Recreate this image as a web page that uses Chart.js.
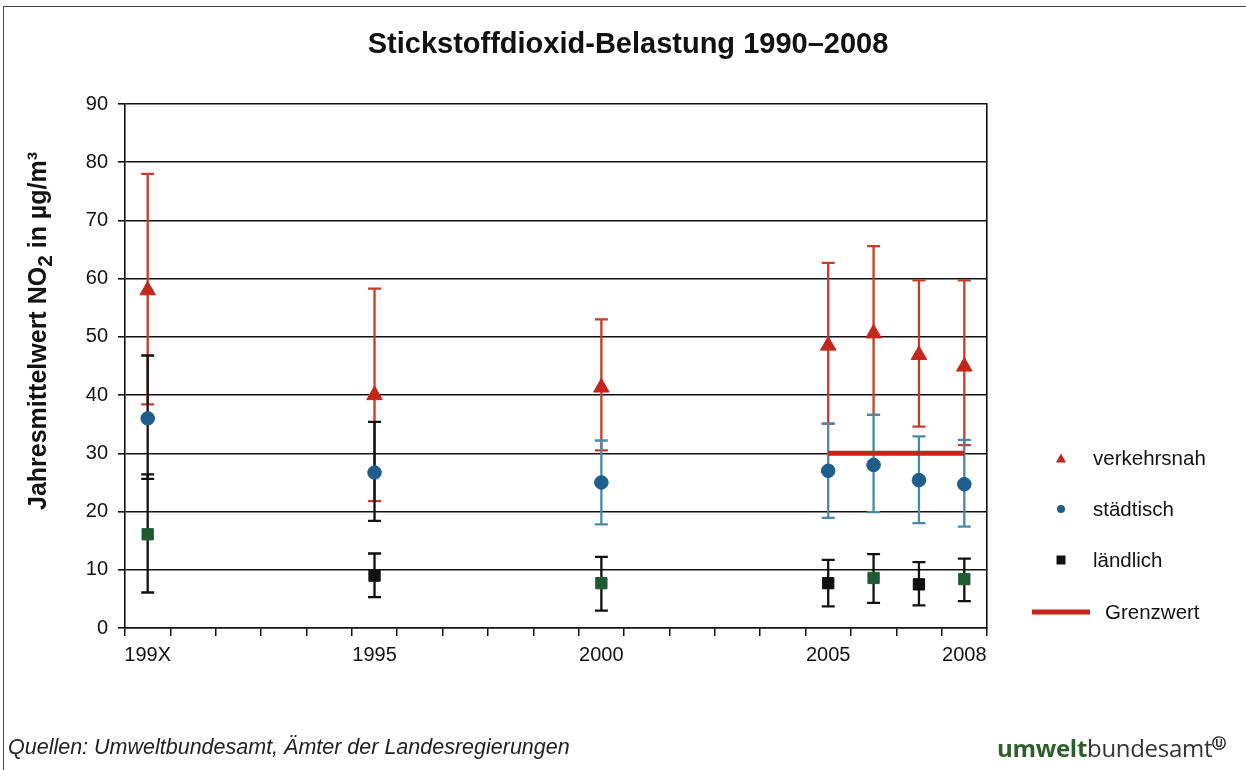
<!DOCTYPE html>
<html>
<head>
<meta charset="utf-8">
<script src="https://cdn.jsdelivr.net/npm/chart.js@4.4.0/dist/chart.umd.min.js"></script>
<style>
    body { margin: 0; background: #fff; font-family: "Liberation Sans", Arial, sans-serif; }
    #wrap { position: relative; width: 1246px; height: 770px; overflow: hidden; background: #fff; }
    #frame { position: absolute; left: 3px; top: 6px; width: 1300px; height: 800px;
             border-left: 1.5px solid #444; border-top: 1.5px solid #444; }
    #chart { position: absolute; left: 0; top: 0; }
    .y-title { position: absolute; left: 40px; top: 331px; transform: translate(-50%, -50%) rotate(-90deg);
               white-space: nowrap; font-weight: bold; font-size: 25px; color: #111; }
    .legend-item { position: absolute; font-size: 20.5px; color: #111; white-space: nowrap; transform: translateY(-50%); }
    .marker { position: absolute; transform: translate(-50%, -50%); }
    .source { position: absolute; left: 8px; top: 747px; transform: translateY(-50%);
              font-style: italic; font-size: 21.5px; color: #222; white-space: nowrap; }
    .logo { position: absolute; left: 997px; top: 747px; transform: translateY(-50%);
            font-family: "Open Sans", "Noto Sans", sans-serif; font-size: 24px; color: #333; white-space: nowrap; letter-spacing: -0.3px; }
    .logo b { color: #2d5f2a; }
    .logo sup { font-family: "DejaVu Sans", sans-serif; font-size: 14px; font-weight: bold; color: #222; }
</style>
</head>
<body>
<div id="wrap">
    <div id="frame"></div>
    <canvas id="chart" width="1246" height="770"></canvas>
    <div class="y-title">Jahresmittelwert NO<sub>2</sub> in µg/m³</div>
    <div id="legend"></div>
    <div class="source">Quellen: Umweltbundesamt, Ämter der Landesregierungen</div>
    <div class="logo"><b>umwelt</b>bundesamt<sup>Ⓤ</sup></div>
</div>
<script>
// x categories and tick labels
const years = [1990, 1991, 1992, 1993, 1994, 1995, 1996, 1997, 1998, 1999,
               2000, 2001, 2002, 2003, 2004, 2005, 2006, 2007, 2008];
const tickYears = [1990, 1995, 2000, 2005, 2008];
const tickTexts = ['199X', '1995', '2000', '2005', '2008'];

// measured years
const measureYears = [1990, 1995, 2000, 2005, 2006, 2007, 2008];

// verkehrsnah (traffic stations)
const verkehrsnahMean = [58, 40, 41.3, 48.5, 50.6, 46.9, 44.9];
const verkehrsnahMax = [78, 58.3, 53, 62.7, 65.6, 59.7, 59.7];
const verkehrsnahMin = [38.4, 21.8, 30.5, 35.1, 36.6, 34.6, 31.4];

// städtisch (urban background)
const staedtischMean = [36, 26.7, 25, 27, 28, 25.4, 24.7];
const staedtischMax = [46.8, 35.4, 32.2, 35.1, 36.6, 32.9, 32.3];
const staedtischMin = [25.6, 18.4, 17.8, 18.9, 19.9, 18, 17.4];

// ländlich (rural background)
const laendlichMean = [16.1, 9, 7.7, 7.7, 8.6, 7.5, 8.4];
const laendlichMax = [26.4, 12.8, 12.2, 11.7, 12.7, 11.3, 11.9];
const laendlichMin = [6.1, 5.3, 3, 3.7, 4.3, 3.9, 4.6];

// Grenzwert (limit value)
const grenzwertYears = [2005, 2008];
const grenzwertValues = [30, 30];

const RED = '#c4261c';
const BLUE = '#1f5d8c';
const TEAL = '#4d87a6';
const GREEN = '#1f5a34';
const BLACK = '#111';

Chart.defaults.font.family = '"Liberation Sans", Arial, sans-serif';

function toPoints(yrs, values) {
    return yrs.map((yr, i) => ({ x: String(yr), y: values[i] }));
}

// draws whiskers under the markers
const errorBarPlugin = {
    id: 'errorBars',
    beforeDatasetsDraw(chart) {
        const ctx = chart.ctx;
        const yScale = chart.scales.y;
        chart.data.datasets.forEach((ds, i) => {
            if (!ds.errLow) return;
            const meta = chart.getDatasetMeta(i);
            meta.data.forEach((pt, j) => {
                const top = yScale.getPixelForValue(ds.errHigh[j]);
                const bottom = yScale.getPixelForValue(ds.errLow[j]);
                ctx.save();
                ctx.strokeStyle = ds.errColors[j];
                ctx.lineWidth = 2.3;
                ctx.beginPath();
                ctx.moveTo(pt.x, top);
                ctx.lineTo(pt.x, bottom);
                ctx.moveTo(pt.x - 6.5, top);
                ctx.lineTo(pt.x + 6.5, top);
                ctx.moveTo(pt.x - 6.5, bottom);
                ctx.lineTo(pt.x + 6.5, bottom);
                ctx.stroke();
                ctx.restore();
            });
        });
    }
};

const datasets = [
    {
        label: 'verkehrsnah',
        data: toPoints(measureYears, verkehrsnahMean),
        showLine: false,
        pointStyle: 'triangle',
        pointRadius: 9,
        pointBackgroundColor: RED,
        pointBorderColor: RED,
        errLow: verkehrsnahMin,
        errHigh: verkehrsnahMax,
        errColors: measureYears.map(() => '#c93a2c')
    },
    {
        label: 'städtisch',
        data: toPoints(measureYears, staedtischMean),
        showLine: false,
        pointStyle: 'circle',
        pointRadius: 6.8,
        pointBackgroundColor: BLUE,
        pointBorderColor: BLUE,
        errLow: staedtischMin,
        errHigh: staedtischMax,
        errColors: [BLACK, BLACK, TEAL, TEAL, TEAL, TEAL, TEAL]
    },
    {
        label: 'ländlich',
        data: toPoints(measureYears, laendlichMean),
        showLine: false,
        pointStyle: 'rect',
        pointRadius: 8,
        pointBackgroundColor: [GREEN, BLACK, GREEN, BLACK, GREEN, BLACK, GREEN],
        pointBorderColor: [GREEN, BLACK, GREEN, BLACK, GREEN, BLACK, GREEN],
        errLow: laendlichMin,
        errHigh: laendlichMax,
        errColors: measureYears.map(() => BLACK)
    },
    {
        label: 'Grenzwert',
        data: toPoints(grenzwertYears, grenzwertValues),
        borderColor: RED,
        borderWidth: 5,
        pointRadius: 0,
        fill: false
    }
];

new Chart(document.getElementById('chart'), {
    type: 'line',
    data: { labels: years.map(String), datasets: datasets },
    plugins: [errorBarPlugin],
    options: {
        responsive: false,
        animation: false,
        events: [],
        layout: { padding: { left: 10, right: 0, top: 0, bottom: 0 } },
        plugins: {
            legend: { display: false },
            tooltip: { enabled: false },
            title: {
                display: true,
                text: 'Stickstoffdioxid-Belastung 1990–2008',
                color: BLACK,
                font: { size: 29, weight: 'bold' },
                padding: { top: 27.5, bottom: 41.7 }
            }
        },
        scales: {
            x: {
                type: 'category',
                offset: true,
                grid: { offset: true, drawOnChartArea: false, tickLength: 8, color: BLACK, lineWidth: 1.5 },
                border: { color: BLACK, width: 1.6 },
                ticks: {
                    autoSkip: false,
                    maxRotation: 0,
                    padding: 7,
                    color: BLACK,
                    font: { size: 20 },
                    callback: (value, index) => {
                        const k = tickYears.indexOf(years[index]);
                        return k >= 0 ? tickTexts[k] : '';
                    }
                },
                afterFit: (scale) => { scale.height = 142; }
            },
            y: {
                min: 0,
                max: 90,
                ticks: { stepSize: 10, padding: 10, color: BLACK, font: { size: 20 } },
                grid: { color: BLACK, lineWidth: 1.6, tickLength: 7 },
                border: { color: BLACK, width: 1.6 },
                afterFit: (scale) => { scale.width = 115; }
            },
            y2: {
                position: 'right',
                min: 0,
                max: 90,
                ticks: { display: false },
                grid: { drawOnChartArea: false, drawTicks: false },
                border: { color: BLACK, width: 1.6 },
                afterFit: (scale) => { scale.width = 259; }
            }
        }
    }
});

// legend on the right
const legendEntries = [
    { text: 'verkehrsnah', kind: 'triangle', color: RED, y: 458 },
    { text: 'städtisch', kind: 'circle', color: BLUE, y: 509 },
    { text: 'ländlich', kind: 'square', color: BLACK, y: 560 },
    { text: 'Grenzwert', kind: 'line', color: RED, y: 612 }
];
const legend = document.getElementById('legend');
legendEntries.forEach(entry => {
    const marker = document.createElement('div');
    marker.className = 'marker';
    if (entry.kind === 'triangle') {
        marker.style.cssText = `left:1061px;top:${entry.y}px;width:0;height:0;border-left:5px solid transparent;border-right:5px solid transparent;border-bottom:9px solid ${entry.color};`;
    } else if (entry.kind === 'circle') {
        marker.style.cssText = `left:1061px;top:${entry.y}px;width:8px;height:8px;border-radius:50%;background:${entry.color};`;
    } else if (entry.kind === 'square') {
        marker.style.cssText = `left:1061px;top:${entry.y}px;width:9px;height:9px;background:${entry.color};`;
    } else {
        marker.style.cssText = `left:1061px;top:${entry.y}px;width:58px;height:5px;background:${entry.color};`;
    }
    legend.appendChild(marker);

    const label = document.createElement('div');
    label.className = 'legend-item';
    label.textContent = entry.text;
    label.style.left = (entry.kind === 'line' ? 1105 : 1093) + 'px';
    label.style.top = entry.y + 'px';
    legend.appendChild(label);
});
</script>
</body>
</html>
